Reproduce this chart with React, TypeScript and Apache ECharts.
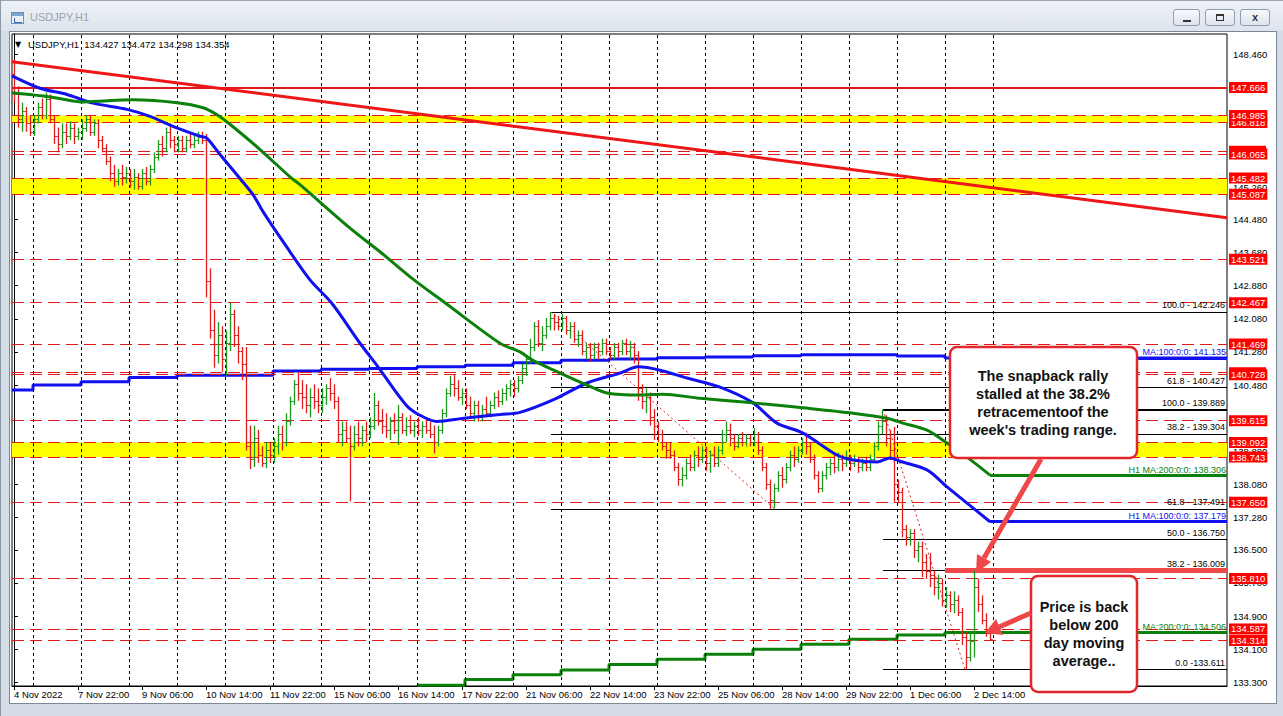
import React, { useEffect, useRef } from "react";
import * as echarts from "echarts";

// ---------------- DATA (2-hour OHLC bars: [open, high, low, close]) ----------------
const nov04 = [
  [148.0, 148.35, 147.3, 147.5], [147.5, 147.7, 146.7, 146.9], [146.9, 147.3, 146.6, 147.1],
  [147.1, 147.2, 146.6, 146.8], [146.8, 147.0, 146.5, 146.6],
];
const nov07 = [
  [146.6, 147.0, 146.5, 146.9], [146.9, 147.3, 146.8, 147.2], [147.2, 147.4, 146.9, 147.0],
  [147.0, 147.55, 146.9, 147.4], [147.4, 147.5, 146.8, 146.9], [146.9, 147.0, 146.3, 146.5],
  [146.5, 146.7, 146.1, 146.3], [146.3, 146.8, 146.2, 146.6], [146.6, 146.8, 146.3, 146.5],
  [146.5, 146.85, 146.4, 146.7], [146.7, 146.8, 146.3, 146.5], [146.5, 146.7, 146.4, 146.6],
];
const nov08 = [
  [146.6, 146.9, 146.4, 146.7], [146.7, 147.0, 146.6, 146.9], [146.9, 147.0, 146.5, 146.6],
  [146.6, 146.9, 146.5, 146.8], [146.8, 146.9, 146.2, 146.4], [146.4, 146.5, 146.1, 146.2],
  [146.2, 146.3, 145.8, 145.9], [145.9, 146.0, 145.4, 145.6], [145.6, 145.8, 145.27, 145.4],
  [145.4, 145.7, 145.3, 145.6], [145.6, 145.8, 145.3, 145.5], [145.5, 145.75, 145.35, 145.6],
];
const nov09 = [
  [145.6, 145.7, 145.25, 145.4], [145.4, 145.7, 145.2, 145.5], [145.5, 145.6, 145.2, 145.3],
  [145.3, 145.7, 145.2, 145.6], [145.6, 145.75, 145.3, 145.4], [145.4, 145.8, 145.3, 145.7],
  [145.7, 146.1, 145.6, 146.0], [146.0, 146.4, 145.9, 146.3], [146.3, 146.5, 146.0, 146.2],
  [146.2, 146.7, 146.1, 146.6], [146.6, 146.8, 146.2, 146.4], [146.4, 146.5, 146.1, 146.3],
];
const nov10 = [
  [146.3, 146.5, 146.1, 146.4], [146.4, 146.5, 146.1, 146.2], [146.2, 146.5, 146.1, 146.4],
  [146.4, 146.55, 146.2, 146.3], [146.3, 146.5, 146.2, 146.4], [146.4, 146.6, 146.3, 146.5],
  [146.5, 146.6, 146.3, 146.4], [146.4, 146.55, 142.6, 143.0], [143.0, 143.3, 141.6, 141.8],
  [141.8, 142.3, 140.9, 141.2], [141.2, 142.0, 141.0, 141.7], [141.7, 141.9, 140.8, 141.1],
];
const nov11 = [
  [141.1, 141.8, 140.7, 141.5], [141.5, 142.47, 141.3, 142.2], [142.2, 142.3, 141.4, 141.7],
  [141.7, 141.9, 141.0, 141.3], [141.3, 141.4, 140.6, 141.0], [141.0, 141.4, 138.9, 139.0],
  [139.0, 139.5, 138.45, 138.7], [138.7, 139.5, 138.5, 139.2], [139.2, 139.4, 138.6, 138.8],
  [138.8, 139.0, 138.5, 138.6], [138.6, 139.1, 138.47, 138.9], [138.9, 139.1, 138.6, 138.8],
];
const nov14 = [
  [138.8, 139.2, 138.6, 139.0], [139.0, 139.5, 138.8, 139.3], [139.3, 139.5, 138.9, 139.1],
  [139.1, 139.8, 139.0, 139.6], [139.6, 140.2, 139.5, 140.1], [140.1, 140.6, 140.0, 140.5],
  [140.5, 140.79, 140.1, 140.3], [140.3, 140.6, 139.9, 140.2], [140.2, 140.5, 139.8, 140.0],
  [140.0, 140.4, 139.7, 140.2], [140.2, 140.5, 139.9, 140.1], [140.1, 140.4, 139.8, 140.0],
];
const nov15 = [
  [140.0, 140.4, 139.8, 140.2], [140.2, 140.5, 140.0, 140.4], [140.4, 140.65, 140.1, 140.3],
  [140.3, 140.5, 139.9, 140.1], [140.1, 140.2, 139.1, 139.3], [139.3, 139.6, 139.0, 139.4],
  [139.4, 139.6, 139.1, 139.2], [139.2, 139.5, 137.67, 139.0], [139.0, 139.5, 138.9, 139.3],
  [139.3, 139.6, 139.0, 139.2], [139.2, 139.5, 139.0, 139.4], [139.4, 139.6, 139.1, 139.3],
];
const nov16 = [
  [139.3, 139.7, 139.2, 139.5], [139.5, 140.29, 139.4, 140.0], [140.0, 140.1, 139.5, 139.6],
  [139.6, 139.9, 139.3, 139.5], [139.5, 139.8, 139.2, 139.4], [139.4, 139.7, 139.15, 139.6],
  [139.6, 139.8, 139.3, 139.4], [139.4, 140.0, 139.03, 139.7], [139.7, 139.8, 139.3, 139.4],
  [139.4, 139.7, 139.25, 139.5], [139.5, 139.75, 139.3, 139.4], [139.4, 139.6, 139.22, 139.5],
];
const nov17 = [
  [139.5, 139.7, 139.25, 139.4], [139.4, 139.6, 139.2, 139.5], [139.5, 139.7, 139.3, 139.4],
  [139.4, 139.6, 139.2, 139.3], [139.3, 139.5, 138.83, 139.1], [139.1, 139.5, 139.0, 139.4],
  [139.4, 139.9, 139.3, 139.8], [139.8, 140.4, 139.7, 140.3], [140.3, 140.7, 140.2, 140.5],
  [140.5, 140.75, 140.2, 140.4], [140.4, 140.6, 140.1, 140.2], [140.2, 140.4, 140.0, 140.3],
];
const nov18 = [
  [140.3, 140.4, 139.9, 140.0], [140.0, 140.2, 139.7, 139.8], [139.8, 140.1, 139.6, 140.0],
  [140.0, 140.1, 139.6, 139.7], [139.7, 140.0, 139.6, 139.9], [139.9, 140.2, 139.7, 139.8],
  [139.8, 140.1, 139.7, 140.0], [140.0, 140.3, 139.9, 140.2], [140.2, 140.35, 139.95, 140.1],
  [140.1, 140.4, 140.0, 140.3], [140.3, 140.5, 140.1, 140.4], [140.4, 140.6, 140.2, 140.5],
];
const nov21 = [
  [140.5, 140.6, 140.2, 140.4], [140.4, 140.7, 140.3, 140.6], [140.6, 141.0, 140.5, 140.9],
  [140.9, 141.2, 140.7, 141.1], [141.1, 141.6, 141.0, 141.4], [141.4, 142.0, 141.3, 141.9],
  [141.9, 142.05, 141.4, 141.5], [141.5, 141.9, 141.3, 141.7], [141.7, 142.1, 141.6, 141.9],
  [141.9, 142.246, 141.8, 142.1], [142.1, 142.2, 141.8, 142.0], [142.0, 142.15, 141.8, 141.9],
];
const nov22 = [
  [141.9, 142.2, 141.8, 142.1], [142.1, 142.15, 141.7, 141.8], [141.8, 142.0, 141.6, 141.9],
  [141.9, 142.0, 141.5, 141.6], [141.6, 141.8, 141.4, 141.7], [141.7, 141.8, 141.2, 141.3],
  [141.3, 141.5, 141.1, 141.4], [141.4, 141.5, 141.05, 141.2], [141.2, 141.5, 141.1, 141.4],
  [141.4, 141.5, 141.1, 141.3], [141.3, 141.6, 141.2, 141.5], [141.5, 141.6, 141.2, 141.3],
];
const nov23 = [
  [141.3, 141.4, 141.1, 141.2], [141.2, 141.5, 141.1, 141.4], [141.4, 141.5, 141.15, 141.3],
  [141.3, 141.57, 141.2, 141.5], [141.5, 141.6, 141.2, 141.3], [141.3, 141.55, 141.1, 141.4],
  [141.4, 141.5, 141.0, 141.2], [141.2, 141.3, 140.1, 140.4], [140.4, 140.5, 139.9, 140.1],
  [140.1, 140.4, 139.8, 140.2], [140.2, 140.3, 139.5, 139.7], [139.7, 139.9, 139.15, 139.5],
];
const nov24 = [
  [139.5, 139.6, 139.1, 139.3], [139.3, 139.4, 138.9, 139.0], [139.0, 139.1, 138.7, 138.9],
  [138.9, 139.08, 138.7, 138.8], [138.8, 138.9, 138.4, 138.5], [138.5, 138.6, 138.05, 138.2],
  [138.2, 138.5, 138.03, 138.3], [138.3, 138.7, 138.2, 138.6], [138.6, 138.8, 138.4, 138.5],
  [138.5, 138.9, 138.4, 138.8], [138.8, 139.0, 138.5, 138.7], [138.7, 139.0, 138.6, 138.9],
];
const nov25 = [
  [138.9, 139.0, 138.4, 138.6], [138.6, 138.9, 138.36, 138.8], [138.8, 139.0, 138.5, 138.6],
  [138.6, 139.0, 138.5, 138.9], [138.9, 139.4, 138.8, 139.3], [139.3, 139.6, 139.1, 139.4],
  [139.4, 139.55, 139.0, 139.2], [139.2, 139.3, 138.9, 139.0], [139.0, 139.3, 138.95, 139.2],
  [139.2, 139.35, 139.0, 139.1], [139.1, 139.3, 139.0, 139.2], [139.2, 139.3, 139.0, 139.1],
];
const nov28 = [
  [139.1, 139.44, 139.0, 139.3], [139.3, 139.35, 138.8, 138.9], [138.9, 139.0, 138.4, 138.5],
  [138.5, 138.6, 137.95, 138.1], [138.1, 138.2, 137.49, 137.7], [137.7, 138.1, 137.5, 138.0],
  [138.0, 138.4, 137.9, 138.3], [138.3, 138.5, 138.0, 138.2], [138.2, 138.6, 138.1, 138.5],
  [138.5, 138.9, 138.4, 138.8], [138.8, 139.0, 138.5, 138.7], [138.7, 139.0, 138.6, 138.9],
];
const nov29 = [
  [138.9, 139.2, 138.8, 139.1], [139.1, 139.33, 138.8, 139.0], [139.0, 139.1, 138.6, 138.7],
  [138.7, 138.8, 138.2, 138.3], [138.3, 138.4, 137.87, 138.0], [138.0, 138.4, 137.9, 138.3],
  [138.3, 138.6, 138.2, 138.5], [138.5, 138.7, 138.3, 138.6], [138.6, 138.8, 138.35, 138.5],
  [138.5, 138.85, 138.4, 138.7], [138.7, 138.8, 138.4, 138.6], [138.6, 138.9, 138.5, 138.7],
];
const nov30 = [
  [138.7, 138.8, 138.4, 138.6], [138.6, 138.8, 138.5, 138.7], [138.7, 138.75, 138.36, 138.5],
  [138.5, 138.7, 138.4, 138.6], [138.6, 138.75, 138.4, 138.5], [138.5, 138.8, 138.4, 138.7],
  [138.7, 139.1, 138.6, 139.0], [139.0, 139.6, 138.9, 139.5], [139.5, 139.889, 139.3, 139.6],
  [139.6, 139.75, 139.0, 139.2], [139.2, 139.4, 138.67, 138.9], [138.9, 139.47, 137.65, 138.1],
];
const dec01 = [
  [138.1, 138.2, 137.63, 137.9], [137.9, 138.0, 136.8, 137.0], [137.0, 137.1, 136.6, 136.8],
  [136.8, 137.0, 136.6, 136.9], [136.9, 137.0, 136.3, 136.5], [136.5, 136.7, 136.2, 136.6],
  [136.6, 136.7, 135.84, 136.2], [136.2, 136.4, 135.8, 136.0], [136.0, 136.42, 135.6, 135.9],
  [135.9, 136.0, 135.4, 135.6], [135.6, 135.9, 135.3, 135.7], [135.7, 135.8, 135.13, 135.3],
];
const dec02 = [
  [135.3, 135.6, 135.1, 135.4], [135.4, 135.5, 135.0, 135.2], [135.2, 135.5, 134.97, 135.3],
  [135.3, 135.4, 134.9, 135.0], [135.0, 135.1, 134.2, 134.4], [134.4, 134.5, 133.611, 133.9],
  [133.9, 134.5, 133.8, 134.3], [134.3, 136.0, 133.9, 135.6], [135.6, 135.8, 135.0, 135.2],
  [135.2, 135.4, 134.7, 134.8], [134.8, 134.97, 134.4, 134.5], [134.5, 134.6, 134.298, 134.354],
];
const dayBars = [nov04, nov07, nov08, nov09, nov10, nov11, nov14, nov15, nov16, nov17, nov18,
  nov21, nov22, nov23, nov24, nov25, nov28, nov29, nov30, dec01, dec02];

// time axis: one label every 32 hours (16 two-hour slots)
const timeLabels = ["4 Nov 2022", "7 Nov 22:00", "9 Nov 06:00", "10 Nov 14:00", "11 Nov 22:00",
  "15 Nov 06:00", "16 Nov 14:00", "17 Nov 22:00", "21 Nov 06:00", "22 Nov 14:00", "23 Nov 22:00",
  "25 Nov 06:00", "28 Nov 14:00", "29 Nov 22:00", "1 Dec 06:00", "2 Dec 14:00"];
const LABEL_STEP = 16;

// price-axis ticks (the ones fully hidden under price tags in the reference are left out)
const priceTicks = [148.46, 146.86, 145.26, 144.48, 143.68, 142.88, 142.08, 141.28,
  140.48, 138.88, 138.08, 137.28, 136.5, 135.7, 134.9, 134.1, 133.3];

// horizontal levels (drawing order = label stacking order)
const levels = [147.666, 146.818, 146.985, 146.13, 146.065, 145.482, 145.087, 143.521, 142.467,
  141.469, 140.78, 140.728, 139.615, 139.092, 138.743, 137.65, 135.81, 134.587, 134.314];
const hiddenTagLevels = [146.13, 140.78];
const solidLevels = [147.666];
const yellowBands = [[146.985, 146.818], [145.482, 145.087], [139.092, 138.743]];

// Fibonacci sets
const fibAPrices = [142.246, 140.427, 139.304, 137.484];
const fibALabels = ["100.0 - 142.246", "61.8 - 140.427", "38.2 - 139.304", ""];
const fibAAnchors = [[134.25, 142.246], [190.25, 137.484]];
const fibBPrices = [139.889, 137.491, 136.75, 136.009, 133.611];
const fibBLabels = ["100.0 - 139.889", "61.8 - 137.491", "50.0 - 136.750", "38.2 - 136.009", "0.0 -133.611"];
const fibBAnchors = [[217.25, 139.889], [237.75, 133.611]];

// moving averages: [slot, price]
const h1MA100 = [[-0.5, 147.95], [6.5, 147.65], [13.25, 147.5], [19.75, 147.29], [28.25, 147.14],
  [34, 146.97], [39.75, 146.73], [46.5, 146.49], [48.25, 146.44], [51.5, 146.05], [56.5, 145.47],
  [59.75, 145.08], [62.25, 144.67], [68, 143.84], [74, 143.02], [79.5, 142.45], [86.5, 141.49],
  [91, 140.92], [98, 140.0], [101.5, 139.75], [105.75, 139.6], [112.5, 139.68], [121.5, 139.77],
  [126.5, 139.82], [134.75, 140.12], [143.25, 140.53], [151.5, 140.77], [156, 140.92],
  [161.5, 140.84], [168.25, 140.65], [176.5, 140.43], [184.75, 140.05], [190.75, 139.56],
  [197.25, 139.32], [205.75, 138.79], [209.75, 138.67], [215.75, 138.62], [219, 138.72],
  [221.5, 138.64], [228.25, 138.43], [233.25, 138.02], [238.25, 137.63], [244, 137.179]];
const h1MA200 = [[-0.5, 147.54], [9, 147.44], [17.25, 147.32], [29.75, 147.37], [40.75, 147.3],
  [47.25, 147.18], [50.75, 147.01], [54.75, 146.72], [61.5, 146.17], [69, 145.51], [71.5, 145.32],
  [84, 144.27], [91.5, 143.7], [100, 143.02], [108, 142.45], [121.5, 141.49], [126.5, 141.28],
  [129.5, 141.09], [134.75, 140.85], [143.25, 140.48], [148.25, 140.29], [156.5, 140.24],
  [162.25, 140.26], [170.75, 140.17], [184.75, 140.05], [197.25, 139.93], [209.75, 139.8],
  [218.25, 139.68], [222.25, 139.56], [228.25, 139.39], [233.25, 139.08], [238.25, 138.74],
  [244, 138.306]];
// daily MAs, one value per trading day (4 Nov .. 2 Dec)
const dailyMA100 = [140.36, 140.48, 140.56, 140.66, 140.72, 140.72, 140.82, 140.86, 140.88, 140.92,
  140.96, 141.02, 141.08, 141.11, 141.14, 141.16, 141.19, 141.21, 141.21, 141.18, 141.135];
const dailyMA200 = [133.23, 133.37, 133.48, 133.6, 133.73, 133.86, 133.98, 134.1, 134.22, 134.34,
  134.44, 134.506];
const DAILY_MA200_FIRST_DAY = 9; // 17 Nov

const trendline = [[-0.5, 148.29], [303.25, 144.52]];
const stallLevel = 136.009;
const stallStart = 232.75;

// ---------------- layout constants ----------------
const X_MIN = -0.5;
const X_MAX = 303.25;
const Y_MIN = 133.211;
const Y_MAX = 148.96;
const UP = "#1c9a1c";
const DOWN = "#e41b1b";
const LEVEL_RED = "#e01a1a";
const BLUE = "#1010f0";
const GREEN = "#0b800b";
const FONT = '"Liberation Sans", Arial, "DejaVu Sans", sans-serif';

function dayStart(k: number) {
  // k = 0 for 4 Nov (partial day), then each full day 12 slots
  return k === 0 ? X_MIN : 4.75 + 12 * (k - 1);
}

function buildOption() {
  const bars = dayBars.flat().map((b, i) => [i, b[0], b[1], b[2], b[3]]);

  const gridLines = Array.from({ length: dayBars.length }, (_, k) => ({ xAxis: dayStart(k + 1) }));

  const levelLines = levels.map((p) => {
    const solid = solidLevels.includes(p);
    const hidden = hiddenTagLevels.includes(p);
    return {
      yAxis: p,
      lineStyle: { color: LEVEL_RED, type: solid ? "solid" : [12, 6], width: solid ? 2 : 1 },
      label: {
        show: true, position: "end", formatter: hidden ? " " : p.toFixed(3), backgroundColor: "#ff0000",
        color: "#ffffff", fontSize: 9.5, fontFamily: FONT, padding: [1, 2, 0, 2], distance: 2,
        width: hidden ? 33 : undefined,
      },
    };
  });

  const fibLine = (price: number, start: number, text: string, width: number) => [
    {
      coord: [start, price],
      lineStyle: { color: "#000", type: "solid", width },
      label: {
        show: !!text, position: "insideEndTop", formatter: text || " ", color: "#000",
        fontSize: 9, fontFamily: FONT, distance: 2,
      },
    },
    { coord: [X_MAX, price] },
  ];

  const fibLines = [
    ...fibAPrices.map((p, i) => fibLine(p, fibAAnchors[0][0], fibALabels[i], 1)),
    ...fibBPrices.map((p, i) => fibLine(p, fibBAnchors[0][0], fibBLabels[i], i === 0 ? 2 : 1)),
    [{ coord: fibAAnchors[0], lineStyle: { color: "#e02020", type: [2, 3], width: 1 }, label: { show: false } }, { coord: fibAAnchors[1] }],
    [{ coord: fibBAnchors[0], lineStyle: { color: "#e02020", type: [2, 3], width: 1 }, label: { show: false } }, { coord: fibBAnchors[1] }],
  ];

  const maLabel = (startX: number, v: number, text: string, color: string) => ({
    symbol: ["none", "none"],
    silent: true,
    animation: false,
    data: [[
      {
        coord: [startX, v],
        lineStyle: { color, width: 3, type: "solid" },
        label: { show: true, position: "insideEndTop", formatter: text, color, fontSize: 9, fontFamily: FONT, distance: 1 },
      },
      { coord: [X_MAX, v] },
    ]],
  });

  const daily100Data = dailyMA100.map((v, k) => [dayStart(k), v]);
  daily100Data.push([X_MAX, dailyMA100[dailyMA100.length - 1]]);
  const daily200Data = dailyMA200.map((v, i) => [dayStart(DAILY_MA200_FIRST_DAY + i), v]);
  daily200Data.push([X_MAX, dailyMA200[dailyMA200.length - 1]]);
  const lastDayEnd = dayStart(dayBars.length);

  const xTickSlots = timeLabels.map((_, i) => i * LABEL_STEP);

  return {
    animation: false,
    backgroundColor: "transparent",
    textStyle: { fontFamily: FONT },
    grid: { left: 12, top: 34, width: 1215, height: 652, show: true, borderColor: "#000", borderWidth: 1, backgroundColor: "#fff" },
    xAxis: {
      type: "value", min: X_MIN, max: X_MAX,
      axisLine: { show: true, onZero: false, lineStyle: { color: "#000", width: 1 } },
      axisTick: { show: true, customValues: xTickSlots, length: 4, lineStyle: { color: "#000" } },
      axisLabel: {
        show: true, customValues: xTickSlots,
        formatter: (v: number) => timeLabels[Math.round(v / LABEL_STEP)] ?? "",
        align: "left", fontSize: 9.5, color: "#000", margin: 3, fontFamily: FONT,
      },
      splitLine: { show: false },
    },
    yAxis: {
      type: "value", position: "right", min: Y_MIN, max: Y_MAX,
      axisLine: { show: true, lineStyle: { color: "#000", width: 1 } },
      axisTick: { show: true, customValues: priceTicks, length: 4, lineStyle: { color: "#000" } },
      axisLabel: {
        show: true, customValues: priceTicks, formatter: (v: number) => v.toFixed(3),
        fontSize: 9.5, color: "#000", margin: 6, fontFamily: FONT,
      },
      splitLine: { show: false },
    },
    series: [
      {
        name: "bands", type: "line", data: [], z: 1, silent: true,
        markArea: {
          silent: true,
          itemStyle: { color: "#ffff00", opacity: 1 },
          label: { show: false },
          data: yellowBands.map(([a, b]) => [{ yAxis: a }, { yAxis: b }]),
        },
      },
      {
        name: "levels", type: "line", data: [], z: 2, silent: true,
        markLine: {
          symbol: ["none", "none"], silent: true, animation: false,
          data: [
            ...gridLines.map((g) => ({ ...g, lineStyle: { color: "#000", type: [3, 3], width: 1 }, label: { show: false } })),
            ...levelLines,
          ],
        },
      },
      {
        name: "fib", type: "line", data: [], z: 3, silent: true,
        markLine: { symbol: ["none", "none"], silent: true, animation: false, data: fibLines },
      },
      {
        name: "dailyMA100", type: "line", step: "end", data: daily100Data, z: 4, showSymbol: false, silent: true,
        lineStyle: { color: BLUE, width: 3 },
        markLine: maLabel(lastDayEnd, dailyMA100[dailyMA100.length - 1], "MA:100:0:0: 141.135", BLUE),
      },
      {
        name: "dailyMA200", type: "line", step: "end", data: daily200Data, z: 4, showSymbol: false, silent: true,
        lineStyle: { color: GREEN, width: 3 },
        markLine: maLabel(lastDayEnd, dailyMA200[dailyMA200.length - 1], "MA:200:0:0: 134.506", GREEN),
      },
      {
        name: "bars", type: "custom", z: 5, silent: true,
        data: bars,
        encode: { x: 0, y: [1, 2, 3, 4] },
        renderItem: (_params: any, api: any) => {
          const s = api.value(0);
          const o = api.value(1), h = api.value(2), l = api.value(3), c = api.value(4);
          const top = api.coord([s, h]);
          const bot = api.coord([s, l]);
          const po = api.coord([s, o]);
          const pc = api.coord([s, c]);
          const color = c >= o ? UP : DOWN;
          const x = Math.round(top[0]) + 0.5;
          const yo = Math.round(po[1]) + 0.5;
          const yc = Math.round(pc[1]) + 0.5;
          return {
            type: "group",
            children: [
              { type: "line", shape: { x1: x, y1: top[1], x2: x, y2: bot[1] }, style: { stroke: color, lineWidth: 1.3 } },
              { type: "line", shape: { x1: x - 2, y1: yo, x2: x, y2: yo }, style: { stroke: color, lineWidth: 1 } },
              { type: "line", shape: { x1: x, y1: yc, x2: x + 2, y2: yc }, style: { stroke: color, lineWidth: 1 } },
            ],
          };
        },
      },
      {
        name: "H1 MA100", type: "line", data: h1MA100, z: 6, showSymbol: false, silent: true, smooth: 0.3,
        lineStyle: { color: BLUE, width: 3 },
        markLine: maLabel(244, 137.179, "H1 MA:100:0:0: 137.179", BLUE),
      },
      {
        name: "H1 MA200", type: "line", data: h1MA200, z: 6, showSymbol: false, silent: true, smooth: 0.3,
        lineStyle: { color: GREEN, width: 3 },
        markLine: maLabel(244, 138.306, "H1 MA:200:0:0: 138.306", GREEN),
      },
      {
        name: "trend", type: "line", data: [], z: 7, silent: true,
        markLine: {
          symbol: ["none", "none"], silent: true, animation: false,
          data: [
            [{ coord: trendline[0], lineStyle: { color: "#ee1616", width: 3, type: "solid" }, label: { show: false } }, { coord: trendline[1] }],
            [{ coord: [stallStart, stallLevel], lineStyle: { color: "#f04848", width: 5, type: "solid" }, label: { show: false } }, { coord: [X_MAX, stallLevel] }],
          ],
        },
      },
    ],
    graphic: [
      { type: "text", x: 15, y: 44, z: 100, style: { text: "▼", fontSize: 8, fill: "#000", textVerticalAlign: "middle", verticalAlign: "middle", fontFamily: '"DejaVu Sans", sans-serif' } },
      { type: "text", x: 28, y: 44, z: 100, style: { text: "USDJPY,H1  134.427 134.472 134.298 134.354", fontSize: 9.5, fill: "#000", textVerticalAlign: "middle", verticalAlign: "middle", fontFamily: FONT } },
      // annotation box 1
      { type: "rect", z: 100, shape: { x: 950, y: 347, width: 187, height: 111, r: 7 }, style: { fill: "#fff", stroke: "#e2262b", lineWidth: 2.5 } },
      {
        type: "text", x: 1043, y: 403, z: 102,
        style: {
          text: "The snapback rally\nstalled at the 38.2%\nretracementoof the\nweek's trading range.",
          fontSize: 14.5, fontWeight: "bold", fontFamily: FONT, fill: "#111", lineHeight: 18,
          textAlign: "center", align: "center", textVerticalAlign: "middle", verticalAlign: "middle",
        },
      },
      // annotation box 2
      { type: "rect", z: 100, shape: { x: 1031, y: 576, width: 106, height: 116, r: 7 }, style: { fill: "#fff", stroke: "#e2262b", lineWidth: 2.5 } },
      {
        type: "text", x: 1084, y: 634, z: 102,
        style: {
          text: "Price is back\nbelow 200\nday moving\naverage..",
          fontSize: 14.5, fontWeight: "bold", fontFamily: FONT, fill: "#111", lineHeight: 18,
          textAlign: "center", align: "center", textVerticalAlign: "middle", verticalAlign: "middle",
        },
      },
      // arrows
      { type: "line", z: 101, shape: { x1: 1041, y1: 459, x2: 984, y2: 558 }, style: { stroke: "#ef4747", lineWidth: 5 } },
      { type: "polygon", z: 101, shape: { points: [[976, 573], [991, 562], [977, 554]] }, style: { fill: "#ef4747" } },
      { type: "line", z: 101, shape: { x1: 1031, y1: 613, x2: 999, y2: 627 }, style: { stroke: "#ef4747", lineWidth: 5 } },
      { type: "polygon", z: 101, shape: { points: [[985, 633], [1003, 635], [996, 619]] }, style: { fill: "#ef4747" } },
    ],
  };
}

function WinButton({ left, width, children }: { left: number; width: number; children: React.ReactNode }) {
  return (
    <div
      style={{
        position: "absolute", left, top: 9, width, height: 17, boxSizing: "border-box",
        border: "1px solid #8e9cae", borderRadius: 3,
        background: "linear-gradient(#f7f9fb, #dde4ec)", display: "flex",
        alignItems: "center", justifyContent: "center",
      }}
    >
      {children}
    </div>
  );
}

export default function App() {
  const ref = useRef<HTMLDivElement>(null);
  useEffect(() => {
    if (!ref.current) return;
    const chart = echarts.init(ref.current, null, { renderer: "svg" });
    chart.setOption(buildOption() as any);
    return () => chart.dispose();
  }, []);
  return (
    <div
      style={{
        position: "fixed", left: 0, top: 0, width: 1283, height: 716, overflow: "hidden",
        background: "#d5dde7", fontFamily: FONT,
      }}
    >
      <div style={{ position: "absolute", left: 0, top: 0, width: 1283, height: 31, background: "linear-gradient(#eef2f6, #dde4ec)", borderTop: "1px solid #9aa6b3", boxSizing: "border-box" }} />
      <div style={{ position: "absolute", left: 0, top: 0, width: 1, height: 716, background: "#8d99a6" }} />
      {/* window icon */}
      <div style={{ position: "absolute", left: 11, top: 12, width: 13, height: 12, border: "1px solid #6f8fb8", background: "#e8f0fa", boxSizing: "border-box" }}>
        <div style={{ position: "absolute", left: 0, top: 0, width: 11, height: 3, background: "#7fa4d4" }} />
        <div style={{ position: "absolute", left: 2, top: 5, width: 7, height: 4, borderBottom: "1px solid #3b6fb0", borderLeft: "1px solid #3b6fb0" }} />
      </div>
      <div style={{ position: "absolute", left: 30, top: 11, fontSize: 11, color: "#9aa3ad", lineHeight: "13px" }}>USDJPY,H1</div>
      <WinButton left={1173} width={27}>
        <div style={{ width: 8, height: 2, background: "#333", marginTop: 7 }} />
      </WinButton>
      <WinButton left={1205} width={30}>
        <div style={{ width: 8, height: 7, border: "1px solid #333", borderTopWidth: 2, boxSizing: "border-box" }} />
      </WinButton>
      <WinButton left={1240} width={30}>
        <div style={{ fontSize: 11, fontWeight: "bold", color: "#333", lineHeight: "11px", fontFamily: FONT }}>x</div>
      </WinButton>
      {/* white chart area */}
      <div style={{ position: "absolute", left: 9, top: 31, width: 1268, height: 673, background: "#fff", border: "1px solid #7c8896", boxSizing: "border-box" }} />
      <div ref={ref} style={{ position: "absolute", left: 0, top: 0, width: 1283, height: 716 }} />
    </div>
  );
}
